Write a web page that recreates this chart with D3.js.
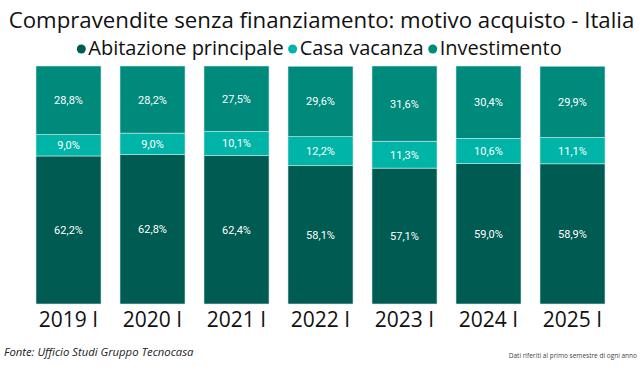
<!DOCTYPE html>
<html>
<head>
<meta charset="utf-8">
<script src="https://cdn.jsdelivr.net/npm/d3@7"></script>
<style>
  body { margin: 0; background: #fff; }
  svg { display: block; font-family: "Open Sans", "Noto Sans", sans-serif; }
</style>
</head>
<body>
<div id="chart"></div>
<script>
// Data
const years = ["2019 I", "2020 I", "2021 I", "2022 I", "2023 I", "2024 I", "2025 I"];
const abitazione = [62.2, 62.8, 62.4, 58.1, 57.1, 59.0, 58.9];
const vacanza = [9.0, 9.0, 10.1, 12.2, 11.3, 10.6, 11.1];
const investimento = [28.8, 28.2, 27.5, 29.6, 31.6, 30.4, 29.9];
const seriesNames = ["Abitazione principale", "Casa vacanza", "Investimento"];
const colors = ["#005b52", "#00b5a7", "#008a7c"];

const width = 643, height = 367;
const margin = { top: 66, right: 38, bottom: 63, left: 36 };

const svg = d3.select("#chart").append("svg")
    .attr("width", width)
    .attr("height", height);

// Title
const title = svg.append("text")
    .attr("x", width / 2)
    .attr("y", 28)
    .attr("text-anchor", "middle")
    .attr("font-size", 24)
    .attr("fill", "#111")
    .text("Compravendite senza finanziamento: motivo acquisto - Italia");
// fit title to width of reference
let tw = title.node().getComputedTextLength();
title.attr("font-size", 24 * 626 / tw);

// Legend
const legend = svg.append("g");
let lx = 0;
seriesNames.forEach((name, i) => {
    const g = legend.append("g").attr("transform", `translate(${lx},0)`);
    g.append("circle").attr("cx", 4).attr("cy", -6).attr("r", 4.5).attr("fill", colors[i]);
    const t = g.append("text").attr("x", 11).attr("y", 0).attr("font-size", 20).attr("fill", "#111").text(name);
    lx += 11 + t.node().getComputedTextLength() + 5;
});
legend.attr("transform", `translate(${(width - (lx - 5)) / 2 - 2},55)`);

// Stack
const data = years.map((y, i) => ({
    year: y,
    "Abitazione principale": abitazione[i],
    "Casa vacanza": vacanza[i],
    "Investimento": investimento[i]
}));
const stack = d3.stack().keys(seriesNames);
const stacked = stack(data);

const x = d3.scaleBand()
    .domain(years)
    .range([margin.left, width - margin.right])
    .paddingInner(0.226)
    .paddingOuter(0);

const y = d3.scaleLinear()
    .domain([0, 100])
    .range([height - margin.bottom, margin.top]);

const color = d3.scaleOrdinal().domain(seriesNames).range(colors);

const layers = svg.append("g").selectAll("g")
    .data(stacked)
    .join("g")
    .attr("fill", d => color(d.key));

layers.selectAll("rect")
    .data(d => d)
    .join("rect")
    .attr("x", d => x(d.data.year))
    .attr("y", d => y(d[1]))
    .attr("width", x.bandwidth())
    .attr("height", d => y(d[0]) - y(d[1]))
    .attr("stroke", "#c8e8e4")
    .attr("stroke-width", 0.6);

// Data labels
layers.selectAll("text")
    .data(d => d)
    .join("text")
    .attr("x", d => x(d.data.year) + x.bandwidth() / 2)
    .attr("y", d => (y(d[0]) + y(d[1])) / 2 + 4)
    .attr("text-anchor", "middle")
    .attr("font-family", "Roboto, sans-serif")
    .attr("font-size", 11)
    .attr("fill", "#fff")
    .text(d => d3.format(".1f")(d[1] - d[0]).replace(".", ",") + "%");

// X axis
const xAxis = svg.append("g")
    .attr("transform", `translate(0,${height - margin.bottom})`)
    .call(d3.axisBottom(x).tickSize(0).tickPadding(8));
xAxis.select(".domain").remove();
xAxis.selectAll("text")
    .attr("font-family", "\"Open Sans\", \"Noto Sans\", sans-serif")
    .attr("font-size", 21)
    .attr("fill", "#111");

// Footer
svg.append("text")
    .attr("x", 4)
    .attr("y", 356)
    .attr("font-size", 11.3)
    .attr("font-style", "italic")
    .attr("fill", "#222")
    .text("Fonte: Ufficio Studi Gruppo Tecnocasa");

svg.append("text")
    .attr("x", 637)
    .attr("y", 358)
    .attr("text-anchor", "end")
    .attr("font-size", 6.5)
    .attr("fill", "#444")
    .text("Dati riferiti al primo semestre di ogni anno");
</script>
</body>
</html>
